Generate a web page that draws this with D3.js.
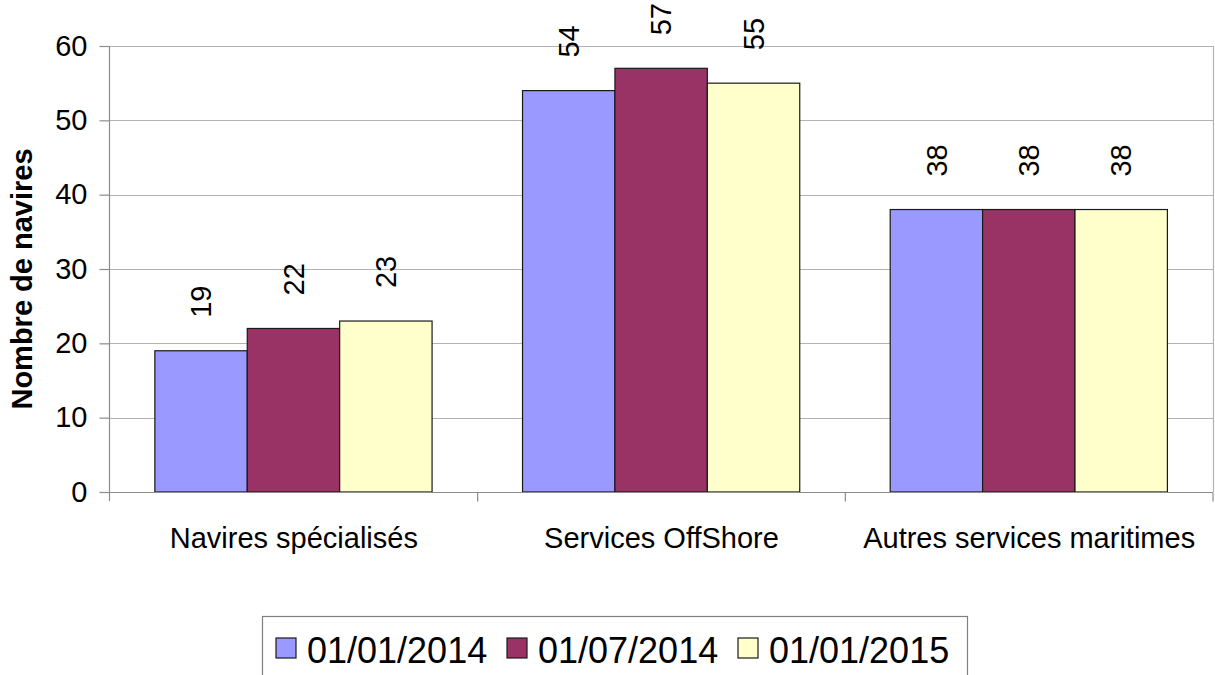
<!DOCTYPE html>
<html>
<head>
<meta charset="utf-8">
<script src="https://cdn.jsdelivr.net/npm/d3@7"></script>
<style>
    body { margin: 0; background: #fff; }
    svg { display: block; font-family: "Liberation Sans", Arial, sans-serif; }
</style>
</head>
<body>
<div id="chart"></div>
<script>

// data
let categories = ["Navires spécialisés", "Services OffShore", "Autres services maritimes"];
let seriesNames = ["01/01/2014", "01/07/2014", "01/01/2015"];
let values2014a = [19, 54, 38];
let values2014b = [22, 57, 38];
let values2015 = [23, 55, 38];
let yTicks = [0, 10, 20, 30, 40, 50, 60];
let colors = ["#9999ff", "#993366", "#ffffcc"];

let seriesValues = [values2014a, values2014b, values2015];

let width = 1215, height = 675;
let margin = {top: 46, right: 2, bottom: 183, left: 110};

let svg = d3.select("#chart").append("svg")
    .attr("width", width)
    .attr("height", height);

// scales
let x0 = d3.scaleBand()
    .domain(categories)
    .range([margin.left, width - margin.right])
    .padding(0);

let bw = x0.bandwidth();
let x1 = d3.scaleBand()
    .domain(seriesNames)
    .range([bw * 0.122, bw * 0.876])
    .padding(0);

let y = d3.scaleLinear()
    .domain([0, 60])
    .range([height - margin.bottom, margin.top]);

// gridlines
svg.append("g")
    .selectAll("line")
    .data(yTicks.filter(d => d > 0))
    .enter().append("line")
    .attr("x1", margin.left)
    .attr("x2", width - margin.right)
    .attr("y1", d => Math.round(y(d)) + 0.5)
    .attr("y2", d => Math.round(y(d)) + 0.5)
    .attr("stroke", "#b3b3b3")
    .attr("stroke-width", 1.2);

// right border of plot area
svg.append("line")
    .attr("x1", width - margin.right + 0.5)
    .attr("x2", width - margin.right + 0.5)
    .attr("y1", y(60))
    .attr("y2", y(0))
    .attr("stroke", "#b3b3b3")
    .attr("stroke-width", 1.2);

// bars
let groups = svg.append("g")
    .selectAll("g")
    .data(categories)
    .enter().append("g")
    .attr("transform", d => "translate(" + x0(d) + ",0)");

groups.selectAll("rect")
    .data((d, i) => seriesNames.map((s, j) => ({series: s, value: seriesValues[j][i], j: j})))
    .enter().append("rect")
    .attr("x", d => x1(d.series))
    .attr("y", d => y(d.value))
    .attr("width", x1.bandwidth())
    .attr("height", d => y(0) - y(d.value))
    .attr("fill", d => colors[d.j])
    .attr("stroke", "#1a1a1a")
    .attr("stroke-width", 1.2);

// value labels, rotated
groups.selectAll(".val")
    .data((d, i) => seriesNames.map((s, j) => ({series: s, value: seriesValues[j][i]})))
    .enter().append("text")
    .attr("class", "val")
    .attr("transform", d => "translate(" + (x1(d.series) + x1.bandwidth() / 2) + "," + (y(d.value) - 33) + ") rotate(-90)")
    .attr("dy", "0.35em")
    .attr("text-anchor", "start")
    .attr("font-size", 29)
    .attr("fill", "#000")
    .text(d => d.value);

// y axis
let yAxis = d3.axisLeft(y)
    .tickValues(yTicks)
    .tickSize(10)
    .tickPadding(12)
    .tickFormat(d3.format("d"));

let yg = svg.append("g")
    .attr("transform", "translate(" + (margin.left - 0.5) + ",0)")
    .call(yAxis);
yg.select(".domain").remove();
yg.append("line")
    .attr("x1", 0).attr("x2", 0)
    .attr("y1", y(60)).attr("y2", y(0) + 9)
    .attr("stroke", "#8c8c8c")
    .attr("stroke-width", 1.2);
yg.selectAll(".tick line").attr("stroke", "#8c8c8c").attr("stroke-width", 1.2);
yg.selectAll(".tick text")
    .attr("font-size", 29)
    .attr("font-family", "Liberation Sans, Arial, sans-serif")
    .attr("fill", "#000");

// x axis
let xg = svg.append("g")
    .attr("transform", "translate(0," + (Math.round(y(0)) + 0.5) + ")");
xg.append("line")
    .attr("x1", margin.left).attr("x2", width - margin.right)
    .attr("stroke", "#8c8c8c")
    .attr("stroke-width", 1.2);
xg.selectAll(".sep")
    .data(categories.slice(1).concat(["end"]))
    .enter().append("line")
    .attr("class", "sep")
    .attr("x1", d => d === "end" ? width - margin.right : x0(d))
    .attr("x2", d => d === "end" ? width - margin.right : x0(d))
    .attr("y1", 0).attr("y2", 9)
    .attr("stroke", "#8c8c8c")
    .attr("stroke-width", 1.2);
xg.selectAll(".cat")
    .data(categories)
    .enter().append("text")
    .attr("class", "cat")
    .attr("x", d => x0(d) + bw / 2)
    .attr("y", 55)
    .attr("text-anchor", "middle")
    .attr("font-size", 29)
    .attr("fill", "#000")
    .text(d => d);

// y title
svg.append("text")
    .attr("transform", "translate(22," + ((y(0) + y(60)) / 2 + 10) + ") rotate(-90)")
    .attr("dy", "0.35em")
    .attr("text-anchor", "middle")
    .attr("font-size", 29)
    .attr("font-weight", "bold")
    .attr("fill", "#000")
    .text("Nombre de navires");

// legend
let legend = svg.append("g");
legend.append("rect")
    .attr("x", 262.5)
    .attr("y", 616.5)
    .attr("width", 705)
    .attr("height", 80)
    .attr("fill", "#fff")
    .attr("stroke", "#808080")
    .attr("stroke-width", 1.2);

let items = legend.selectAll(".item")
    .data(seriesNames)
    .enter().append("g")
    .attr("class", "item")
    .attr("transform", (d, i) => "translate(" + (276 + i * 231) + ",638)");
items.append("rect")
    .attr("width", 20)
    .attr("height", 20)
    .attr("fill", (d, i) => colors[i])
    .attr("stroke", "#1a1a1a")
    .attr("stroke-width", 1.2);
items.append("text")
    .attr("x", 31)
    .attr("y", 25)
    .attr("font-size", 36)
    .attr("fill", "#000")
    .text(d => d);

</script>
</body>
</html>
